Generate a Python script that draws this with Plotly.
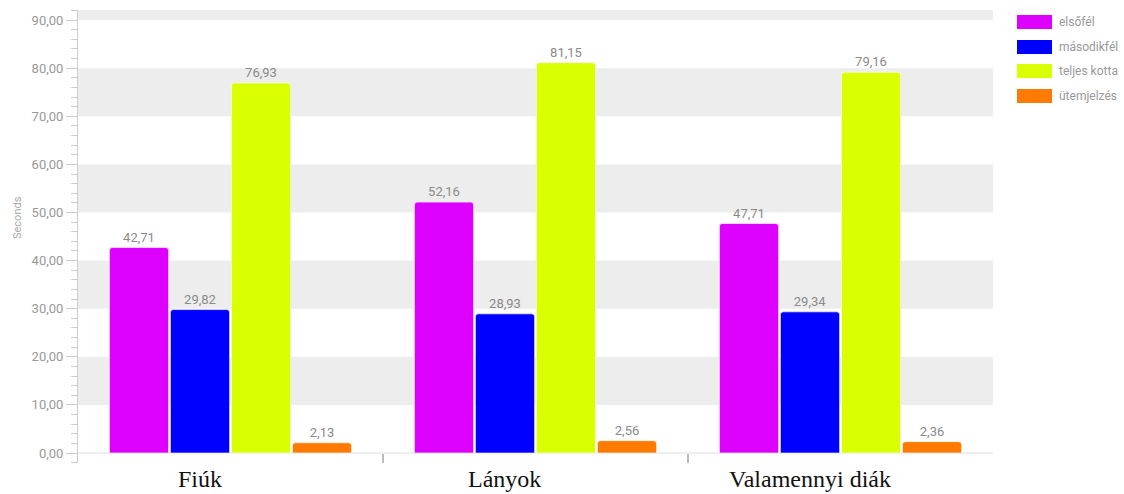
import plotly.graph_objects as go

categories = ["Fiúk", "Lányok", "Valamennyi diák"]
series_names = ["elsőfél", "másodikfél", "teljes kotta", "ütemjelzés"]
elsofel = [42.71, 52.16, 47.71]
masodikfel = [29.82, 28.93, 29.34]
teljes_kotta = [76.93, 81.15, 79.16]
utemjelzes = [2.13, 2.56, 2.36]
series_values = [elsofel, masodikfel, teljes_kotta, utemjelzes]
colors = ["#DD00FF", "#0000FF", "#D9FF00", "#FF7A00"]
y_title = "Seconds"

YMIN, YMAX = -2.08, 92.1

fig = go.Figure()
for name, vals, col in zip(series_names, series_values, colors):
    fig.add_trace(go.Bar(
        x=categories, y=vals, name=name,
        marker=dict(color=col, line=dict(color="rgba(255,255,255,0.6)", width=1), cornerradius=3),
        texttemplate="%{y:.2f}", textposition="outside",
        textfont=dict(color="#8a8a8a", size=13, family="Roboto"),
        cliponaxis=False, showlegend=False,
    ))

shapes = []
# alternating bands
for lo in [10, 30, 50, 70, 90]:
    shapes.append(dict(type="rect", xref="paper", yref="y", x0=0, x1=1,
                       y0=lo, y1=min(lo + 10, YMAX), fillcolor="#EDEDED",
                       line=dict(width=0), layer="below"))
# zero baseline
shapes.append(dict(type="line", xref="paper", yref="y", x0=0, x1=1, y0=0, y1=0,
                   line=dict(color="#DDDDDD", width=1), layer="below"))
# category separators
for b in [0.5, 1.5]:
    shapes.append(dict(type="line", xref="x", yref="paper", x0=b, x1=b,
                       y0=0, y1=9, ysizemode="pixel", yanchor=0,
                       line=dict(color="#BBBBBB", width=2)))

h_plot = 494 - 10 - 31
w_plot = 1124 - 78 - 131

annotations = []
for c in categories:
    annotations.append(dict(x=c, xref="x", y=0, yref="paper", yanchor="top",
                            yshift=-1, xshift=-31, text=c, showarrow=False,
                            font=dict(family="Liberation Serif", size=24, color="#111111")))
annotations.append(dict(x=(17 - 78) / w_plot, xref="paper", y=(494 - 31 - 218) / h_plot,
                        yref="paper", xanchor="center", yanchor="middle",
                        text=y_title, showarrow=False, textangle=-90,
                        font=dict(family="Roboto", size=11, color="#AAAAAA")))

# manual legend with wide swatches
leg_y = [22, 47, 71, 96]
for name, col, py in zip(series_names, colors, leg_y):
    x0 = (1017 - 78) / w_plot
    x1 = (1052 - 78) / w_plot
    yc = (494 - 31 - py) / h_plot
    d = 7 / h_plot
    shapes.append(dict(type="rect", xref="paper", yref="paper", x0=x0, x1=x1,
                       y0=yc - d, y1=yc + d, fillcolor=col, line=dict(width=0)))
    annotations.append(dict(x=(1057 - 78) / w_plot, xref="paper", y=yc, yref="paper",
                            xanchor="left", yanchor="middle", text=name, showarrow=False,
                            font=dict(family="Roboto", size=12, color="#999999")))

fig.update_layout(
    width=1124, height=494,
    margin=dict(l=78, r=131, t=10, b=31),
    plot_bgcolor="white", paper_bgcolor="white",
    separators=", ",
    barmode="group", bargap=0.2, bargroupgap=0.03,
    font=dict(family="Roboto", color="#999999"),
    shapes=shapes, annotations=annotations,
    xaxis=dict(showticklabels=False, showgrid=False, showline=False, ticks="",
               zeroline=False, fixedrange=True),
    yaxis=dict(range=[YMIN, YMAX], tickvals=list(range(0, 91, 10)), tickformat=".2f",
               showgrid=False, zeroline=False, showline=True, linecolor="#CCCCCC",
               ticks="outside", ticklen=11, tickcolor="#CCCCCC",
               tickfont=dict(size=13, color="#999999"),
               minor=dict(dtick=2, ticks="outside", ticklen=6, tickcolor="#CCCCCC")),
)

fig.write_html("out.html")
